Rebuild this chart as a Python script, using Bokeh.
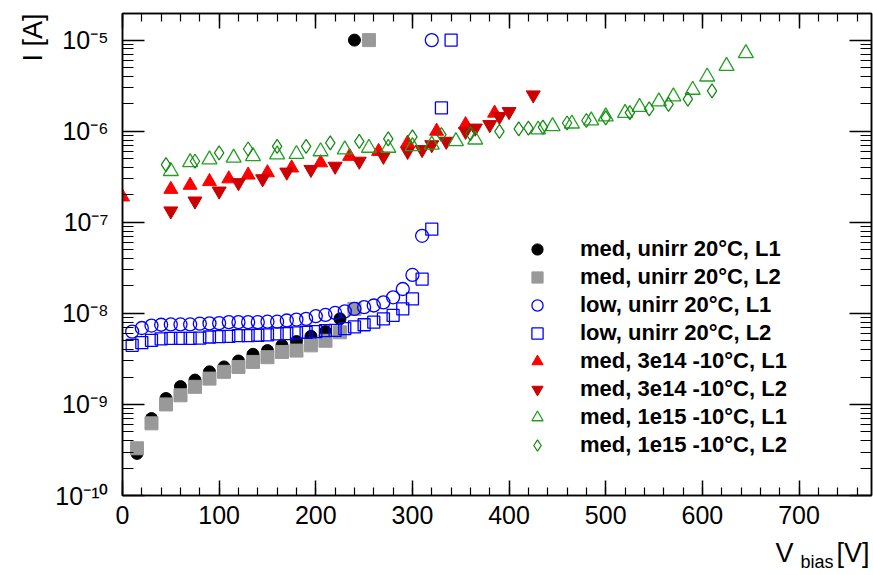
import math
from bokeh.plotting import figure
from bokeh.models import (Range1d, LinearAxis, LogAxis, FixedTicker, SingleIntervalTicker,
                          Legend, LegendItem, Label, CustomJSTickFormatter)
from bokeh.embed import file_html
from bokeh.resources import INLINE

# ---------------- data ----------------
V_MED_UNIRR_L1 = [15, 30, 45, 60, 75, 90, 105, 120, 135, 150, 165, 180, 195, 210, 225, 240]
I_MED_UNIRR_L1 = [2.9e-10, 7.0e-10, 1.16e-9, 1.57e-9, 1.85e-9, 2.28e-9, 2.58e-9, 3.0e-9, 3.55e-9,
                  3.9e-9, 4.45e-9, 4.9e-9, 5.6e-9, 6.3e-9, 8.7e-9, 1.0e-5]

V_MED_UNIRR_L2 = [15, 30, 45, 60, 75, 90, 105, 120, 135, 150, 165, 180, 195, 210, 225, 240, 255]
I_MED_UNIRR_L2 = [3.3e-10, 6.2e-10, 1.0e-9, 1.26e-9, 1.56e-9, 1.92e-9, 2.28e-9, 2.58e-9, 2.93e-9,
                  3.3e-9, 3.77e-9, 3.9e-9, 4.45e-9, 5.0e-9, 6.2e-9, 1.12e-8, 1.0e-5]

V_LOW_UNIRR_L1 = [10, 20, 30, 40, 50, 60, 70, 80, 90, 100, 110, 120, 130, 140, 150, 160, 170, 180,
                  190, 200, 210, 220, 230, 240, 250, 260, 270, 280, 290, 300, 310, 320]
I_LOW_UNIRR_L1 = [6.3e-9, 6.9e-9, 7.35e-9, 7.5e-9, 7.55e-9, 7.55e-9, 7.55e-9, 7.7e-9, 7.75e-9, 7.8e-9,
                  8.0e-9, 8.0e-9, 8.0e-9, 8.0e-9, 8.1e-9, 8.1e-9, 8.35e-9, 8.55e-9, 8.7e-9, 9.3e-9,
                  9.6e-9, 1.01e-8, 1.05e-8, 1.12e-8, 1.17e-8, 1.22e-8, 1.32e-8, 1.5e-8, 1.85e-8,
                  2.64e-8, 7.1e-8, 1.0e-5]

V_LOW_UNIRR_L2 = [10, 20, 30, 40, 50, 60, 70, 80, 90, 100, 110, 120, 130, 140, 150, 160, 170, 180,
                  190, 200, 210, 220, 230, 240, 250, 260, 270, 280, 290, 300, 310, 320, 330, 340]
I_LOW_UNIRR_L2 = [4.45e-9, 4.76e-9, 5.05e-9, 5.25e-9, 5.3e-9, 5.3e-9, 5.3e-9, 5.35e-9, 5.5e-9, 5.55e-9,
                  5.6e-9, 5.7e-9, 5.7e-9, 5.75e-9, 5.8e-9, 5.95e-9, 6.0e-9, 6.1e-9, 6.2e-9, 6.3e-9,
                  6.45e-9, 6.5e-9, 6.8e-9, 7.1e-9, 7.5e-9, 8.0e-9, 8.7e-9, 9.5e-9, 1.12e-8, 1.44e-8,
                  2.38e-8, 8.4e-8, 1.8e-6, 1.0e-5]

V_MED_3E14_L1 = [0, 50, 70, 90, 110, 130, 150, 175, 205, 235, 265, 295, 325, 355, 385]
I_MED_3E14_L1 = [1.9e-7, 2.3e-7, 2.55e-7, 2.8e-7, 3.0e-7, 3.3e-7, 3.5e-7, 3.95e-7, 4.5e-7, 5.3e-7,
                 6.0e-7, 7.4e-7, 1.0e-6, 1.18e-6, 1.58e-6]

V_MED_3E14_L2 = [50, 75, 100, 120, 145, 170, 195, 220, 245, 270, 295, 310, 320, 335, 355, 365, 380,
                 390, 400, 425]
I_MED_3E14_L2 = [1.33e-7, 1.71e-7, 2.2e-7, 2.72e-7, 3.0e-7, 3.55e-7, 3.8e-7, 4.12e-7, 4.68e-7, 5.3e-7,
                 6.0e-7, 6.28e-7, 7.1e-7, 7.74e-7, 9.95e-7, 1.08e-6, 1.18e-6, 1.45e-6, 1.64e-6, 2.5e-6]

V_MED_1E15_L1 = [50, 70, 90, 115, 135, 160, 180, 205, 230, 255, 275, 300, 320, 345, 365, 430, 445,
                 465, 485, 500, 520, 535, 555, 570, 590, 605, 625, 645]
I_MED_1E15_L1 = [3.64e-7, 4.56e-7, 4.89e-7, 5.1e-7, 5.3e-7, 5.54e-7, 5.6e-7, 6.0e-7, 6.28e-7, 6.55e-7,
                 6.55e-7, 6.82e-7, 7.1e-7, 7.74e-7, 8.07e-7, 1.04e-6, 1.13e-6, 1.21e-6, 1.31e-6,
                 1.45e-6, 1.58e-6, 1.84e-6, 2.12e-6, 2.4e-6, 2.84e-6, 3.97e-6, 5.2e-6, 7.16e-6]

V_MED_1E15_L2 = [45, 75, 100, 130, 160, 190, 215, 245, 275, 300, 330, 360, 390, 410, 420, 435, 460,
                 480, 500, 525, 545, 565, 585, 610]
I_MED_1E15_L2 = [4.3e-7, 4.68e-7, 5.78e-7, 6.38e-7, 6.82e-7, 6.82e-7, 7.43e-7, 7.74e-7, 8.22e-7,
                 8.65e-7, 9.17e-7, 9.4e-7, 9.95e-7, 1.06e-6, 1.08e-6, 1.11e-6, 1.23e-6, 1.31e-6,
                 1.4e-6, 1.6e-6, 1.76e-6, 1.97e-6, 2.25e-6, 2.77e-6]

SERIES_LABELS = ["med, unirr 20°C, L1", "med, unirr 20°C, L2", "low, unirr 20°C, L1",
                 "low, unirr 20°C, L2", "med, 3e14 -10°C, L1", "med, 3e14 -10°C, L2",
                 "med, 1e15 -10°C, L1", "med, 1e15 -10°C, L2"]

Y_TICKS = [1e-10, 1e-9, 1e-8, 1e-7, 1e-6, 1e-5]
Y_TICK_LABELS = ["10⁻¹⁰", "10⁻⁹", "10⁻⁸", "10⁻⁷", "10⁻⁶", "10⁻⁵"]
X_RANGE = (0, 775)
Y_RANGE = (1e-10, 1.96e-5)

FONT = "Liberation Sans"

# ---------------- figure ----------------
p = figure(frame_width=749, frame_height=482, y_axis_type="log",
           x_range=Range1d(*X_RANGE), y_range=Range1d(*Y_RANGE),
           output_backend="svg", toolbar_location=None,
           min_border_left=122, min_border_right=2, min_border_top=13, min_border_bottom=80)
p.xgrid.visible = False
p.ygrid.visible = False
p.outline_line_color = "black"
p.outline_line_width = 1.5
p.background_fill_color = "white"
p.border_fill_color = "white"

x_ticker = SingleIntervalTicker(interval=100, num_minor_ticks=5)
y_minor = [m * t for t in Y_TICKS for m in range(2, 10)]
y_ticker = FixedTicker(ticks=Y_TICKS, minor_ticks=y_minor)
blank = CustomJSTickFormatter(code="return '';")


def style_axis(ax, ticker, tick_in, minor_in, labels=True):
    ax.ticker = ticker
    ax.axis_line_width = 1.5
    ax.major_tick_line_width = 1.5
    ax.minor_tick_line_width = 1.2
    ax.major_tick_in = tick_in
    ax.major_tick_out = 0
    ax.minor_tick_in = minor_in
    ax.minor_tick_out = 0
    ax.major_label_text_font = FONT
    ax.major_label_text_font_size = "25px"
    ax.major_label_text_color = "black"
    if not labels:
        ax.formatter = blank
        ax.major_label_standoff = 0


style_axis(p.xaxis[0], x_ticker, 15, 8)
p.xaxis[0].major_label_standoff = 10
style_axis(p.yaxis[0], y_ticker, 22, 11)
p.yaxis[0].major_label_overrides = dict(zip(Y_TICKS, Y_TICK_LABELS))
p.yaxis[0].major_label_standoff = 14

top_ax = LinearAxis()
style_axis(top_ax, x_ticker, 15, 8, labels=False)
p.add_layout(top_ax, "above")
right_ax = LogAxis()
style_axis(right_ax, y_ticker, 22, 11, labels=False)
p.add_layout(right_ax, "right")

# ---------------- data glyphs ----------------
r1 = p.scatter(V_MED_UNIRR_L1, I_MED_UNIRR_L1, marker="circle", size=12,
               fill_color="black", line_color="black")
r2 = p.scatter(V_MED_UNIRR_L2, I_MED_UNIRR_L2, marker="square", size=13,
               fill_color="#999999", line_color="#999999")
r3 = p.scatter(V_LOW_UNIRR_L1, I_LOW_UNIRR_L1, marker="circle", size=13,
               fill_color=None, line_color="#0000ff", line_width=1.3)
r4 = p.scatter(V_LOW_UNIRR_L2, I_LOW_UNIRR_L2, marker="square", size=12,
               fill_color=None, line_color="#0000ff", line_width=1.3)
r5 = p.scatter(V_MED_3E14_L1, I_MED_3E14_L1, marker="triangle", size=14,
               fill_color="#ff0000", line_color="#ff0000")
r6 = p.scatter(V_MED_3E14_L2, I_MED_3E14_L2, marker="inverted_triangle", size=14,
               fill_color="#cc0000", line_color="#cc0000")
r7 = p.scatter(V_MED_1E15_L1, I_MED_1E15_L1, marker="triangle", size=15,
               fill_color=None, line_color="#22a022", line_width=1.3)
r8 = p.scatter(V_MED_1E15_L2, I_MED_1E15_L2, marker="diamond", size=14,
               fill_color=None, line_color="#118811", line_width=1.2)

renderers = [r1, r2, r3, r4, r5, r6, r7, r8]
legend = Legend(items=[LegendItem(label=l, renderers=[r]) for l, r in zip(SERIES_LABELS, renderers)],
                location=(401, 36), glyph_width=28, glyph_height=28, spacing=0, padding=0,
                margin=0, label_standoff=29, label_text_font=FONT, label_text_font_style="bold",
                label_text_font_size="22px", label_text_color="black", label_height=28,
                border_line_color=None, background_fill_alpha=0)
p.add_layout(legend, "center")

# ---------------- axis titles (in side panels so they are not clipped) ----------------
p.add_layout(Label(x=X_RANGE[0], y=Y_RANGE[1], x_offset=-90, y_offset=0, text="I [A]",
                   angle=math.pi / 2, text_align="right", text_baseline="middle",
                   text_font=FONT, text_font_size="27px", text_color="black"), "left")
p.add_layout(Label(x=X_RANGE[1], y=Y_RANGE[0], x_offset=-2, y_offset=-57, text="[V]",
                   text_align="right", text_baseline="alphabetic",
                   text_font=FONT, text_font_size="27px", text_color="black"), "below")
p.add_layout(Label(x=X_RANGE[1], y=Y_RANGE[0], x_offset=-38, y_offset=-66, text="bias",
                   text_align="right", text_baseline="alphabetic",
                   text_font=FONT, text_font_size="18px", text_color="black"), "below")
p.add_layout(Label(x=X_RANGE[1], y=Y_RANGE[0], x_offset=-78, y_offset=-57, text="V",
                   text_align="right", text_baseline="alphabetic",
                   text_font=FONT, text_font_size="27px", text_color="black"), "below")

open("out.html", "w").write(file_html(p, INLINE))
